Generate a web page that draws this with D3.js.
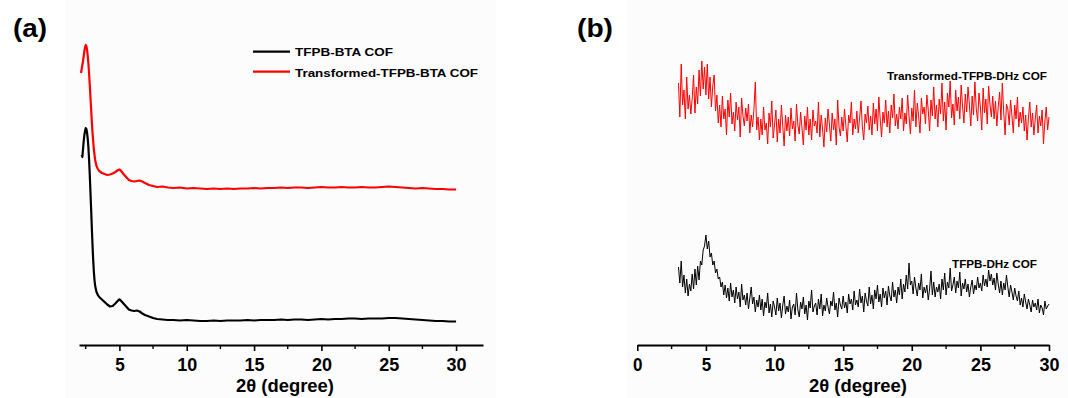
<!DOCTYPE html>
<html><head><meta charset="utf-8">
<script src="https://cdn.jsdelivr.net/npm/d3@7"></script>
<style>body{margin:0;background:#fff}svg{display:block}text{font-family:"Liberation Sans",Arial,sans-serif;font-weight:bold}</style>
</head><body><svg id="c" width="1068" height="398"></svg>
<script>
// ---- data (intensity in arbitrary units) ----
const ticksA = [5, 10, 15, 20, 25, 30];
const ticksB = [0, 5, 10, 15, 20, 25, 30];
const minorA = [2.5, 7.5, 12.5, 17.5, 22.5, 27.5];
const minorB = [2.5, 7.5, 12.5, 17.5, 22.5, 27.5];
const seriesNamesA = ["TFPB-BTA COF", "Transformed-TFPB-BTA COF"];
const seriesNamesB = ["Transformed-TFPB-DHz COF", "TFPB-DHz COF"];

const redAx = [2.15,2.2,2.25,2.3,2.35,2.4,2.45,2.5,2.55,2.6,2.65,2.7,2.75,2.8,2.85,2.9,2.95,3.0,3.1,3.2,3.3,3.4,3.5,3.7,3.9,4.1,4.3,4.5,4.7,4.9,5.0,5.1,5.3,5.5,5.7,5.9,6.1,6.3,6.5,6.7,6.9,7.2,7.5,7.8,8.2,8.6,9,9.5,10,10.5,11,11.5,12,12.5,13,13.5,14,14.5,15,15.5,16,16.5,17,17.5,18,18.5,19,19.5,20,20.5,21,21.5,22,22.5,23,23.5,24,24.5,25,25.5,26,26.5,27,27.5,28,28.5,29,29.5,30];
const redAy = [272,276,280,284,289,294,298,300,299,295,289,281,271,260,248,236,224,213,196,185,179,176,174,172,171,170,170.5,171.5,173,175,175.5,174.5,171,168,165,164,163.5,164,164.5,163.5,162,160,159,158,158.5,157.5,157,157.5,156.5,157,156.5,156,156.5,156,156.5,156,156.5,156.5,157,156.5,157,157,157.5,157,157.5,157.5,157,157.5,158,157.5,157.5,158,157.5,157.5,158,157.5,157.5,158,158.5,158,157.5,157,156.5,157,156.5,156,156,155.5,155.5];

const blackAx = [2.2,2.25,2.3,2.35,2.4,2.45,2.5,2.55,2.6,2.65,2.7,2.75,2.8,2.85,2.9,2.95,3.0,3.05,3.1,3.15,3.2,3.3,3.4,3.5,3.7,3.9,4.1,4.3,4.5,4.7,4.9,5.0,5.1,5.3,5.5,5.7,5.9,6.1,6.3,6.5,6.7,6.9,7.2,7.5,7.8,8.2,8.6,9,9.5,10,10.5,11,11.5,12,12.5,13,13.5,14,14.5,15,15.5,16,16.5,17,17.5,18,18.5,19,19.5,20,20.5,21,21.5,22,22.5,23,23.5,24,24.5,25,25.5,26,26.5,27,27.5,28,28.5,29,29.5,30];
const blackAy = [190,188,196,204,210,214,217,216,212,206,197,185,170,153,136,118,101,86,74,65,59,53,50,48,45.5,43,40.5,38.5,39,41.5,44.5,45.5,44.5,41.5,38.5,35.5,34.5,34,34.5,33.5,31.5,30,28.5,27,26,25.5,25,25,24.5,25,24.5,24,24,24.5,24,24.5,24.5,24.5,25,24.5,25,25,25,25.5,25,25.5,25.5,25,25.5,26,25.5,26,26,26.5,26.5,26,26.5,26.5,26.5,27,27,26.5,26,25.5,25,24.5,24,24,23.5,23.5];

// panel (b): sampled every 0.1 degree from 3.0 to 30.0
const bStart = 3.0, bStep = 0.1;
const redB = [
262,228,281,240,255,226,268,236,250,231,
246,270,232,258,241,275,249,284,256,278,
250,281,246,268,238,259,270,234,250,222,
240,218,249,226,236,210,245,228,252,221,
233,214,243,225,238,208,247,229,219,237,
224,241,212,230,218,236,263,215,228,205,
226,210,238,215,222,201,232,218,244,207,
220,235,203,226,212,240,219,199,230,214,
228,209,237,216,224,204,241,220,211,233,
217,200,229,215,238,210,226,205,235,219,
224,212,243,208,230,216,198,227,213,236,
220,204,232,215,226,200,245,218,209,228,
214,236,219,203,230,222,243,210,226,216,
234,212,227,244,218,205,231,222,239,215,
229,210,242,221,236,214,248,226,208,233,
222,245,218,234,212,240,227,251,219,231,
216,238,226,247,214,232,221,250,229,211,
237,224,255,218,242,229,212,247,231,238,
221,250,235,214,245,229,258,226,240,218,
246,231,262,224,243,215,252,238,264,227,
241,220,255,234,248,226,260,239,222,251,
233,258,240,219,249,230,263,236,224,252,
238,215,257,232,246,221,259,240,228,249,
226,244,219,238,253,225,262,233,210,241,
236,220,245,229,212,240,226,248,218,233,
222,238,214,230,205,227,243,218,232,210,
226,240,212,229,219,235,201,224,238,215,
228];
const blackB = [
78,62,84,58,70,52,66,49,61,54,
71,56,76,60,79,65,84,80,95,99,
110,96,104,88,92,80,84,72,76,66,
68,58,63,50,60,47,57,44,62,48,
55,42,58,46,53,38,61,45,50,40,
52,36,47,58,41,48,33,45,38,50,
35,46,29,43,37,52,32,41,28,44,
38,30,47,34,42,27,40,49,31,39,
33,45,26,38,41,30,52,35,28,43,
36,48,31,40,25,44,37,55,33,39,
42,30,46,36,51,29,40,34,47,38,
31,44,39,53,35,42,28,47,40,36,
49,37,43,32,51,41,46,35,54,40,
45,38,56,42,49,33,52,44,39,58,
41,50,36,55,46,60,43,51,38,57,
47,54,40,59,49,44,63,48,55,42,
58,50,66,46,61,53,70,56,82,60,
64,51,68,57,49,62,55,71,47,58,
52,60,45,56,74,50,63,48,58,53,
61,46,66,55,72,50,63,57,77,54,
60,68,52,64,57,73,49,62,56,66,
53,61,48,58,65,51,60,55,68,57,
62,54,70,59,66,58,75,64,71,60,
67,55,72,61,52,64,50,62,55,70,
58,48,60,53,45,57,49,44,54,40,
47,38,51,43,36,46,40,33,45,38,
42,35,46,32,40,37,30,44,36,39,
41];

// ---- drawing ----
const svg = d3.select("#c");
const axisY = 345;
const y = d3.scaleLinear().domain([0, 315]).range([345, 30]);
const xA = d3.scaleLinear().domain([2, 32]).range([79, 483]);
const xB = d3.scaleLinear().domain([0, 30]).range([637.3, 1049]);

svg.append("rect").attr("x", 65).attr("y", 0).attr("width", 431).attr("height", 398).attr("fill", "#fcfcfc");
svg.append("rect").attr("x", 627).attr("y", 0).attr("width", 441).attr("height", 398).attr("fill", "#fcfcfc");

function fitText(sel, len) {
  sel.attr("textLength", len).attr("lengthAdjust", "spacingAndGlyphs");
}

function drawAxis(x, ticks, minor, labelX) {
  const g = svg.append("g").attr("transform", `translate(0,${axisY})`);
  g.call(d3.axisBottom(x).tickValues(ticks).tickSize(6).tickSizeOuter(0).tickPadding(8).tickFormat(d3.format("d")));
  g.select(".domain").attr("stroke", "#000").attr("stroke-width", 2.2);
  g.selectAll(".tick line").attr("stroke", "#000").attr("stroke-width", 1.6);
  g.selectAll(".tick text").attr("font-size", 17.5).attr("font-family", "Liberation Sans, Arial, sans-serif")
    .attr("font-weight", "bold").attr("fill", "#000")
    .attr("textLength", d => String(d).length > 1 ? 20 : 9.5).attr("lengthAdjust", "spacingAndGlyphs");
  g.selectAll(".minor").data(minor).enter().append("line")
    .attr("x1", d => x(d)).attr("x2", d => x(d)).attr("y1", 0).attr("y2", 4)
    .attr("stroke", "#000").attr("stroke-width", 1.4);
  const t = svg.append("text").attr("x", labelX - 49).attr("y", 392)
    .attr("font-size", 17.5).text("2θ (degree)");
  fitText(t, 98);
}
drawAxis(xA, ticksA, minorA, 285);
drawAxis(xB, ticksB, minorB, 858);

const lineA = d3.line().x(d => xA(d[0])).y(d => y(d[1]));
svg.append("path").datum(blackAx.map((v, i) => [v, blackAy[i]]))
  .attr("d", lineA).attr("fill", "none").attr("stroke", "#000").attr("stroke-width", 2.2).attr("stroke-linejoin", "round");
svg.append("path").datum(redAx.map((v, i) => [v, redAy[i]]))
  .attr("d", lineA).attr("fill", "none").attr("stroke", "#ff0000").attr("stroke-width", 2.2).attr("stroke-linejoin", "round");

const lineB = d3.line().x(d => xB(d[0])).y(d => y(d[1]));
svg.append("path").datum(redB.map((v, i) => [bStart + i * bStep, v]))
  .attr("d", lineB).attr("fill", "none").attr("stroke", "#ff0000").attr("stroke-width", 1);
svg.append("path").datum(blackB.map((v, i) => [bStart + i * bStep, v]))
  .attr("d", lineB).attr("fill", "none").attr("stroke", "#000").attr("stroke-width", 1);

// legend (a)
const leg = [[seriesNamesA[0], "#000", 51.7, 55.7, 98], [seriesNamesA[1], "#ff0000", 71.7, 76.5, 183]];
leg.forEach(([name, col, yy, base, len]) => {
  svg.append("line").attr("x1", 253).attr("x2", 290).attr("y1", yy).attr("y2", yy).attr("stroke", col).attr("stroke-width", 2.2);
  fitText(svg.append("text").attr("x", 295).attr("y", base).attr("font-size", 11.5).text(name), len);
});
// labels (b)
fitText(svg.append("text").attr("x", 887).attr("y", 80).attr("font-size", 11.5).text(seriesNamesB[0]), 160);
fitText(svg.append("text").attr("x", 952).attr("y", 268).attr("font-size", 11.5).text(seriesNamesB[1]), 85);

// panel letters
fitText(svg.append("text").attr("x", 13).attr("y", 37).attr("font-size", 25).text("(a)"), 34);
fitText(svg.append("text").attr("x", 577).attr("y", 37).attr("font-size", 25).text("(b)"), 36);
</script></body></html>
